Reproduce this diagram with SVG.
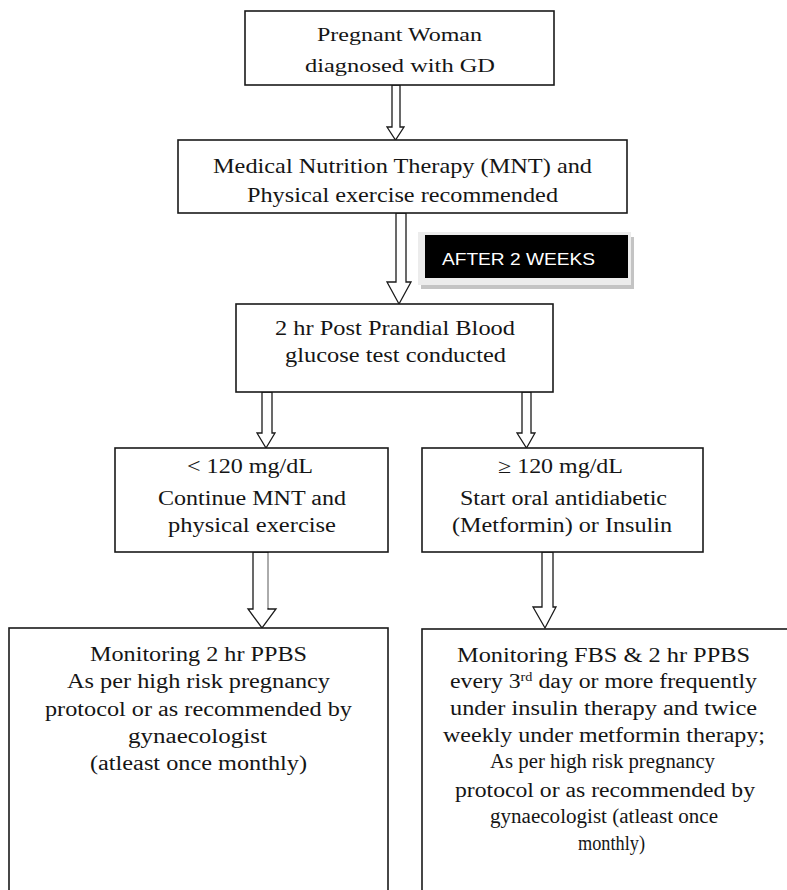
<svg xmlns="http://www.w3.org/2000/svg" width="787" height="890" viewBox="0 0 787 890">
<style>
.box{fill:#fff;stroke:#1a1a1a;stroke-width:1.6}
.t{font-family:"Liberation Serif","Times New Roman",serif;fill:#151515;text-anchor:middle}
.arr{fill:#fff;stroke:#1a1a1a;stroke-width:1.3;stroke-linejoin:miter}
</style>
<rect width="787" height="890" fill="#fff"/>
<g id="connectors">
<polygon class="arr" points="392,85 392,127 387,127 395.5,140 404,127 400,127 400,85"/>
<polygon class="arr" points="396,213 396,282 387,282 399,304 411,282 406,282 406,213"/>
<polygon class="arr" points="262,392 262,433 257,433 266,448 275,433 272,433 272,392"/>
<polygon class="arr" points="522,392 522,433 517,433 526.5,448 535,433 531,433 531,392"/>
<polygon class="arr" points="253,552 253,609 248,609 262,628 276,609 268,609 268,552"/>
<line x1="268" y1="553" x2="268" y2="608" stroke="#bdbdbd" stroke-width="1.6"/>
<polygon class="arr" points="542,552 542,607 533,607 545,628 556,607 553,607 553,552"/>
</g>
<g id="label-after">
<rect x="421" y="237" width="213" height="52" fill="#c4c4c4"/>
<rect x="418" y="232" width="213" height="53" fill="#ececec"/>
<rect x="425" y="235" width="203" height="43" fill="#000"/>
<text x="442" y="265" font-family="Liberation Sans, Arial, sans-serif" font-size="17" fill="#fff" textLength="153" lengthAdjust="spacingAndGlyphs">AFTER 2 WEEKS</text>
</g>
<g id="n1">
<rect class="box" x="245" y="11" width="309" height="74"/>
<text class="t" font-size="19" x="399.5" y="41" textLength="165" lengthAdjust="spacingAndGlyphs">Pregnant Woman</text>
<text class="t" font-size="19" x="400" y="72" textLength="190" lengthAdjust="spacingAndGlyphs">diagnosed with GD</text>
</g>
<g id="n2">
<rect class="box" x="178" y="140" width="449" height="73"/>
<text class="t" font-size="22" x="402.5" y="173" textLength="379" lengthAdjust="spacingAndGlyphs">Medical Nutrition Therapy (MNT) and</text>
<text class="t" font-size="22" x="402.5" y="202" textLength="311" lengthAdjust="spacingAndGlyphs">Physical exercise recommended</text>
</g>
<g id="n3">
<rect class="box" x="236" y="304" width="317" height="88"/>
<text class="t" font-size="22" x="395" y="335" textLength="240" lengthAdjust="spacingAndGlyphs">2 hr Post Prandial Blood</text>
<text class="t" font-size="22" x="395.5" y="362" textLength="221" lengthAdjust="spacingAndGlyphs">glucose test conducted</text>
</g>
<g id="n4">
<rect class="box" x="115" y="448" width="273" height="104"/>
<text class="t" font-size="20" x="250" y="473" textLength="126" lengthAdjust="spacingAndGlyphs">&lt; 120 mg/dL</text>
<text class="t" font-size="20" x="252" y="505" textLength="188" lengthAdjust="spacingAndGlyphs">Continue MNT and</text>
<text class="t" font-size="20" x="252" y="532" textLength="168" lengthAdjust="spacingAndGlyphs">physical exercise</text>
</g>
<g id="n5">
<rect class="box" x="422" y="448" width="281" height="104"/>
<text class="t" font-size="20" x="560.5" y="473" textLength="125" lengthAdjust="spacingAndGlyphs">≥ 120 mg/dL</text>
<text class="t" font-size="20" x="563.5" y="505" textLength="207" lengthAdjust="spacingAndGlyphs">Start oral antidiabetic</text>
<text class="t" font-size="20" x="562" y="532" textLength="220" lengthAdjust="spacingAndGlyphs">(Metformin) or Insulin</text>
</g>
<g id="n6">
<rect class="box" x="9" y="628" width="379" height="280"/>
<text class="t" font-size="20" x="198.5" y="661" textLength="217" lengthAdjust="spacingAndGlyphs">Monitoring 2 hr PPBS</text>
<text class="t" font-size="20" x="198.5" y="688" textLength="263" lengthAdjust="spacingAndGlyphs">As per high risk pregnancy</text>
<text class="t" font-size="20" x="198.5" y="716" textLength="307" lengthAdjust="spacingAndGlyphs">protocol or as recommended by</text>
<text class="t" font-size="20" x="197.5" y="743" textLength="139" lengthAdjust="spacingAndGlyphs">gynaecologist</text>
<text class="t" font-size="20" x="198.5" y="770" textLength="217" lengthAdjust="spacingAndGlyphs">(atleast once monthly)</text>
</g>
<g id="n7">
<rect class="box" x="422" y="629" width="380" height="280"/>
<text class="t" font-size="20" x="603.5" y="662" textLength="293" lengthAdjust="spacingAndGlyphs">Monitoring FBS &amp; 2 hr PPBS</text>
<text class="t" font-size="20" x="603.5" y="688" textLength="307" lengthAdjust="spacingAndGlyphs">every 3<tspan font-size="12" dy="-7">rd</tspan><tspan dy="7"> day or more frequently</tspan></text>
<text class="t" font-size="20" x="603.5" y="715" textLength="307" lengthAdjust="spacingAndGlyphs">under insulin therapy and twice</text>
<text class="t" font-size="20" x="604" y="742" textLength="322" lengthAdjust="spacingAndGlyphs">weekly under metformin therapy;</text>
<text class="t" font-size="20" x="602.5" y="768" textLength="225" lengthAdjust="spacingAndGlyphs">As per high risk pregnancy</text>
<text class="t" font-size="20" x="605" y="797" textLength="300" lengthAdjust="spacingAndGlyphs">protocol or as recommended by</text>
<text class="t" font-size="20" x="604" y="823" textLength="228" lengthAdjust="spacingAndGlyphs">gynaecologist (atleast once</text>
<text class="t" font-size="20" x="611.5" y="850" textLength="67" lengthAdjust="spacingAndGlyphs">monthly)</text>
</g>
</svg>
